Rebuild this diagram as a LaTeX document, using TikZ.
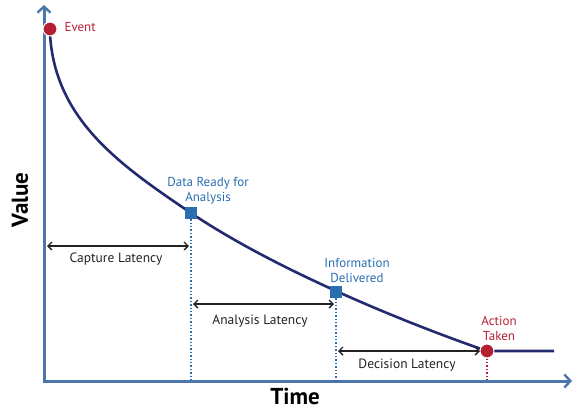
\documentclass[tikz,border=0pt]{standalone}
\usepackage{fontspec}
\setmainfont{PT Sans}
\usetikzlibrary{arrows.meta}
\definecolor{axisblue}{RGB}{74,118,170}
\definecolor{curvenavy}{RGB}{36,42,112}
\definecolor{markblue}{RGB}{42,110,176}
\definecolor{markred}{RGB}{180,32,50}
\definecolor{ink}{RGB}{35,35,35}

\begin{document}
\begin{tikzpicture}[x=1pt,y=-1pt,
  axisline/.style={axisblue,line width=3pt,-{Straight Barb[length=6pt,width=13pt,line width=2.4pt]}},
  latency/.style={ink,line width=1.4pt,{Straight Barb[length=4pt,width=8pt]}-{Straight Barb[length=4pt,width=8pt]}},
  droplines/.style={markblue,line width=1.4pt,dotted},
  dotmark/.style={circle,fill=markred,draw=white,line width=1pt,minimum size=14pt,inner sep=0pt},
  sqmark/.style={rectangle,fill=markblue,minimum size=12pt,inner sep=0pt},
  bluelab/.style={text=markblue,font=\fontsize{13}{15}\selectfont,align=center},
  redlab/.style={text=markred,font=\fontsize{13}{15}\selectfont,align=center},
  latlab/.style={text=ink,font=\fontsize{13.5}{15}\selectfont},
  axislab/.style={text=black,font=\fontsize{23}{25}\selectfont\bfseries}]
  \useasboundingbox (0,0) rectangle (573,410);
  % axes
  \coordinate (origin) at (44,381);
  \draw[axisline] (44,383) -- (44,5);
  \draw[axisline] (42.5,381) -- (572,381);
  \node[axislab,rotate=90] (vlab) at (20,200) {Value};
  \node[axislab] (tlab) at (295,396) {Time};
  % value curve
  \draw[curvenavy,line width=2.6pt] (50,34) .. controls (55,120) and (120,165) .. (191,213)
     .. controls (271,267) and (397,320) .. (487,351) -- (554,351);
  % marks on the curve
  \node[dotmark] (event) at (50,29) {};
  \node[sqmark] (ready) at (191,213) {};
  \node[sqmark] (info) at (336,292) {};
  \node[dotmark] (action) at (487,351) {};
  \node[redlab,anchor=west] (eventlab) at (61,27) {Event};
  \node[bluelab] (readylab) at (208,191) {Data Ready for\\Analysis};
  \node[bluelab] (infolab) at (357,270) {Information\\Delivered};
  \node[redlab] (actionlab) at (499,328) {Action\\Taken};
  % drop lines to the time axis
  \coordinate (readyfoot) at (191,380);
  \coordinate (infofoot) at (336,380);
  \coordinate (actionfoot) at (487,380);
  \draw[droplines] (ready.south) -- (readyfoot);
  \draw[droplines] (info.south) -- (infofoot);
  \draw[droplines,markred] (action.south) -- (actionfoot);
  % latencies
  \coordinate (capL) at (47,246);  \coordinate (capR) at (189,246);
  \coordinate (anaL) at (193,304); \coordinate (anaR) at (334,304);
  \coordinate (decL) at (338,351); \coordinate (decR) at (480,351);
  \draw[latency] (capL) -- (capR);
  \draw[latency] (anaL) -- (anaR);
  \draw[latency] (decL) -- (decR);
  \node[latlab] (caplab) at (116,259) {Capture Latency};
  \node[latlab] (analab) at (260,321) {Analysis Latency};
  \node[latlab] (declab) at (407,365) {Decision Latency};
\end{tikzpicture}
\end{document}
